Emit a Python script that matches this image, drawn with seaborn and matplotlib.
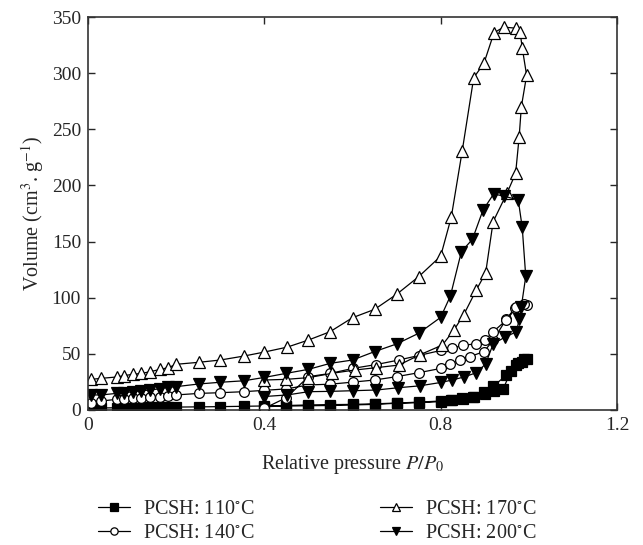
import numpy as np
import pandas as pd
import seaborn as sns
import matplotlib
matplotlib.use("Agg")
import matplotlib.pyplot as plt

# ---------------- data ----------------
labels = ["PCSH: 110$^{\\circ}$C", "PCSH: 140$^{\\circ}$C",
          "PCSH: 170$^{\\circ}$C", "PCSH: 200$^{\\circ}$C"]

p_low = [0.0075, 0.03, 0.065, 0.082, 0.102, 0.121, 0.141, 0.164, 0.182, 0.20,
         0.252, 0.30, 0.353, 0.40]

# 110 C (filled squares)
x110 = p_low + [0.45, 0.50, 0.55, 0.60, 0.65, 0.70, 0.75, 0.80, 0.826, 0.849,
                0.873, 0.898, 0.919, 0.949, 0.972, 0.985, 0.996,
                0.99, 0.976, 0.96, 0.942, 0.92, 0.90, 0.875, 0.85, 0.824, 0.80,
                0.75, 0.70, 0.65, 0.60, 0.55, 0.50, 0.45, 0.40]
y110 = [1.5, 1.8, 2.0, 2.0, 2.1, 2.2, 2.3, 2.4, 2.5, 2.6, 2.8, 3.0, 3.3, 3.6,
        4.0, 4.5, 4.8, 5.0, 5.5, 6.2, 7.0, 8.0, 9.0, 10.5,
        12.0, 16.0, 21.0, 31.0, 40.0, 43.0, 45.0,
        45.0, 42.0, 35.0, 19.0, 17.0, 14.0, 12.0, 10.0, 8.5, 7.5,
        6.5, 6.0, 5.0, 4.5, 4.0, 3.8, 3.5, 3.0]

# 140 C (open circles)
x140 = p_low + [0.45, 0.50, 0.55, 0.60, 0.65, 0.70, 0.75, 0.80, 0.822, 0.843,
                0.866, 0.898, 0.919, 0.949, 0.968, 0.995,
                0.99, 0.972, 0.949, 0.919, 0.90, 0.88, 0.85, 0.826, 0.80,
                0.75, 0.705, 0.654, 0.60, 0.55, 0.50, 0.45, 0.40]
y140 = [6.5, 8.0, 9.5, 10.1, 10.4, 11.0, 11.3, 11.9, 12.5, 13.4, 14.8, 15.4, 16.3, 17.5,
        18.8, 22.3, 23.0, 24.8, 26.7, 29.7, 33.2, 37.0, 41.0, 44.5,
        47.5, 52.0, 62.0, 81.0, 90.5, 93.5,
        94.5, 91.4, 80.0, 69.7, 62.0, 59.0, 57.5, 55.0, 53.0,
        48.5, 44.5, 40.5, 37.0, 32.6, 29.7, 11.0, 1.5]

# 170 C (open triangles)
x170 = p_low + [0.452, 0.50, 0.549, 0.60, 0.65, 0.70, 0.75, 0.80, 0.824, 0.849,
                0.875, 0.898, 0.921, 0.943, 0.972, 0.98, 0.985, 0.995,
                0.983, 0.978, 0.970, 0.951, 0.919, 0.902, 0.881, 0.852, 0.83,
                0.804, 0.752, 0.705, 0.654, 0.605, 0.554, 0.50, 0.449, 0.40]
y170 = [27.3, 28.2, 29.4, 30.6, 31.8, 32.6, 34.1, 36.2, 37.7, 40.7, 42.5, 44.5, 48.0, 51.6,
        56.0, 62.3, 69.7, 82.2, 89.6, 103.0, 118.7, 137.0, 171.6, 231.0,
        296.0, 308.6, 336.0, 341.0, 340.0, 337.0, 322.6, 298.0,
        270.0, 243.0, 210.7, 193.6, 167.7, 122.0, 107.0, 84.6, 71.2,
        57.9, 49.0, 40.0, 37.7, 35.6, 32.7, 28.8, 27.3, 26.7]

# 200 C (filled down-triangles)
x200 = p_low + [0.449, 0.50, 0.55, 0.60, 0.65, 0.70, 0.75, 0.80, 0.822, 0.847,
                0.872, 0.896, 0.92, 0.943, 0.976, 0.985, 0.993,
                0.983, 0.978, 0.972, 0.945, 0.919, 0.902, 0.881, 0.852, 0.826,
                0.80, 0.752, 0.703, 0.654, 0.602, 0.55, 0.50, 0.452, 0.40]
y200 = [13.4, 13.4, 14.8, 15.4, 16.3, 17.2, 17.8, 19.0, 20.2, 20.8, 23.2, 24.7, 26.0, 29.0,
        32.6, 36.2, 41.6, 44.5, 52.0, 58.8, 68.3, 82.5, 101.5, 141.0,
        152.0, 178.0, 192.3, 190.6, 187.0, 162.7, 119.0,
        92.0, 80.8, 69.7, 64.7, 58.8, 41.0, 33.2, 29.3, 26.7,
        24.5, 21.5, 19.8, 17.8, 17.2, 16.6, 16.3, 13.4, 12.0]

xs = [x110, x140, x170, x200]
ys = [y110, y140, y170, y200]
markers = ["s", "o", "^", "v"]
faces = ["black", "white", "white", "black"]

x_ticks = [0, 0.4, 0.8, 1.2]
x_tick_labels = ["0", "0.4", "0.8", "1.2"]
y_ticks = [0, 50, 100, 150, 200, 250, 300, 350]

# ---------------- style ----------------
sns.set_style("ticks")
plt.rcParams["font.family"] = ["Liberation Serif", "DejaVu Serif"]
plt.rcParams["mathtext.fontset"] = "stix"
plt.rcParams["xtick.direction"] = "in"
plt.rcParams["ytick.direction"] = "in"

fig = plt.figure(figsize=(6.43, 5.45), dpi=100)
ax = fig.add_axes([88 / 643, 1 - 410 / 545, (617 - 88) / 643, (410 - 17) / 545])

for i in range(4):
    df = pd.DataFrame({"x": xs[i], "y": ys[i]})
    sns.lineplot(data=df, x="x", y="y", sort=False, estimator=None, ax=ax,
                 color="black", linewidth=0.9, marker=markers[i],
                 markersize=8 if markers[i] in ("^", "v") else 7,
                 markerfacecolor=faces[i], markeredgecolor="black",
                 markeredgewidth=0.9, label=labels[i], legend=False)

ax.set_xlim(0, 1.2)
ax.set_ylim(0, 350)
ax.set_xticks(x_ticks)
ax.set_xticklabels(x_tick_labels)
ax.set_yticks(y_ticks)
ax.tick_params(axis="both", which="both", direction="in", top=True, right=True,
               labelsize=14, length=5, width=1, pad=5)
for s in ax.spines.values():
    s.set_linewidth(1.2)
    s.set_color("#333333")

ax.set_xlabel("Relative pressure $\\mathit{P}/\\mathit{P}_0$", fontsize=14.5, labelpad=14)
ax.set_ylabel("Volume (cm$^{3}$. g$^{-1}$)", fontsize=14.5, labelpad=4)

handles, lbls = ax.get_legend_handles_labels()
leg = fig.legend(handles, lbls, loc="upper left", ncol=2, frameon=False,
                 bbox_to_anchor=(80 / 643, 1 - 482 / 545), fontsize=14.5,
                 handlelength=1.6, handletextpad=0.65, columnspacing=6.2,
                 labelspacing=0.25, markerscale=0.75, borderpad=0.4)

fig.savefig("out.png", dpi=100)
